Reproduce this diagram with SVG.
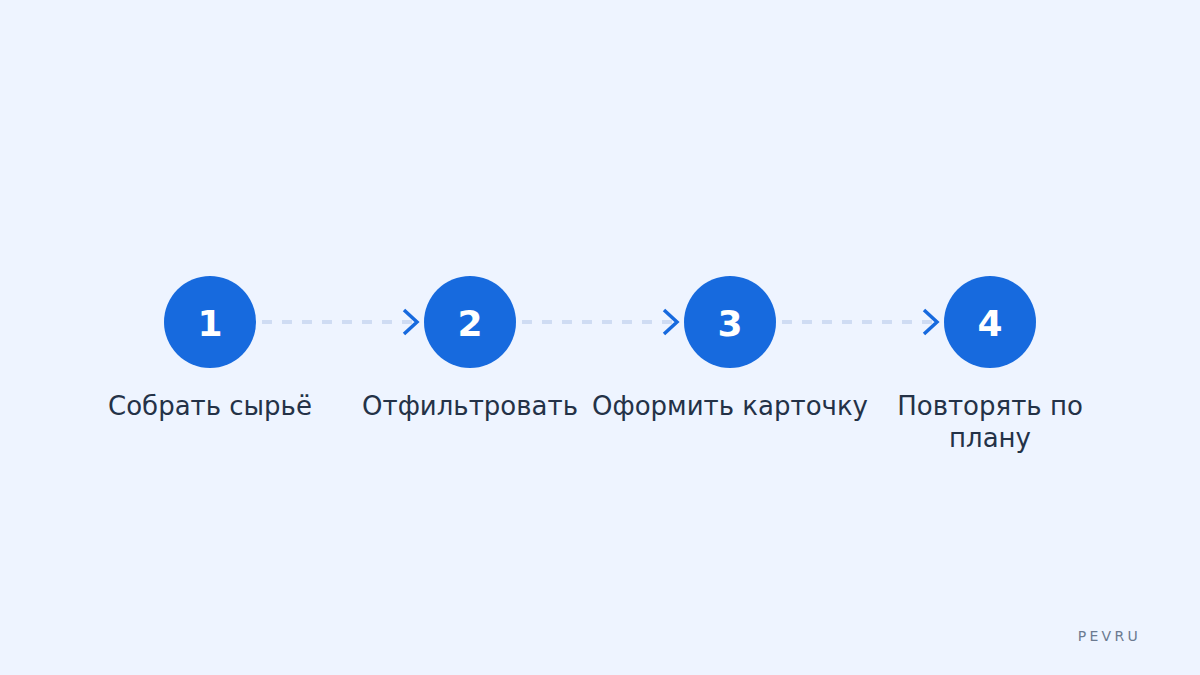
<svg xmlns="http://www.w3.org/2000/svg" width="1200" height="675" viewBox="0 0 1200 675">
<style>
.node circle{fill:#176ade}
.num{font-family:"DejaVu Sans",sans-serif;font-weight:bold;font-size:36px;fill:#ffffff;text-anchor:middle}
.lbl{font-family:"DejaVu Sans",sans-serif;font-size:26px;fill:#243247;text-anchor:middle}
.dash{stroke:#cfdcf3;stroke-width:4;stroke-dasharray:10 10;fill:none}
.chev{stroke:#176ade;stroke-width:3.5;fill:none;stroke-linecap:butt;stroke-linejoin:miter}
</style>
<rect width="1200" height="675" fill="#eef4ff"/>
<g id="connectors">
<line class="dash" x1="262" y1="322" x2="416" y2="322"/>
<polyline class="chev" points="404,310 417,322 404,334"/>
<line class="dash" x1="522" y1="322" x2="676" y2="322"/>
<polyline class="chev" points="664,310 677,322 664,334"/>
<line class="dash" x1="782" y1="322" x2="936" y2="322"/>
<polyline class="chev" points="924,310 937,322 924,334"/>
</g>
<g id="node1" class="node">
<circle cx="210" cy="322" r="46"/>
<text class="num" x="210" y="336">1</text>
<text class="lbl" x="210" y="415">Собрать сырьё</text>
</g>
<g id="node2" class="node">
<circle cx="470" cy="322" r="46"/>
<text class="num" x="470" y="336">2</text>
<text class="lbl" x="470" y="415">Отфильтровать</text>
</g>
<g id="node3" class="node">
<circle cx="730" cy="322" r="46"/>
<text class="num" x="730" y="336">3</text>
<text class="lbl" x="730" y="415">Оформить карточку</text>
</g>
<g id="node4" class="node">
<circle cx="990" cy="322" r="46"/>
<text class="num" x="990" y="336">4</text>
<text class="lbl" x="990" y="415">Повторять по</text>
<text class="lbl" x="990" y="447">плану</text>
</g>
<text x="1141" y="641" font-family="DejaVu Sans, sans-serif" font-size="14" fill="#6b7a90" letter-spacing="3.3" text-anchor="end">PEVRU</text>
</svg>
